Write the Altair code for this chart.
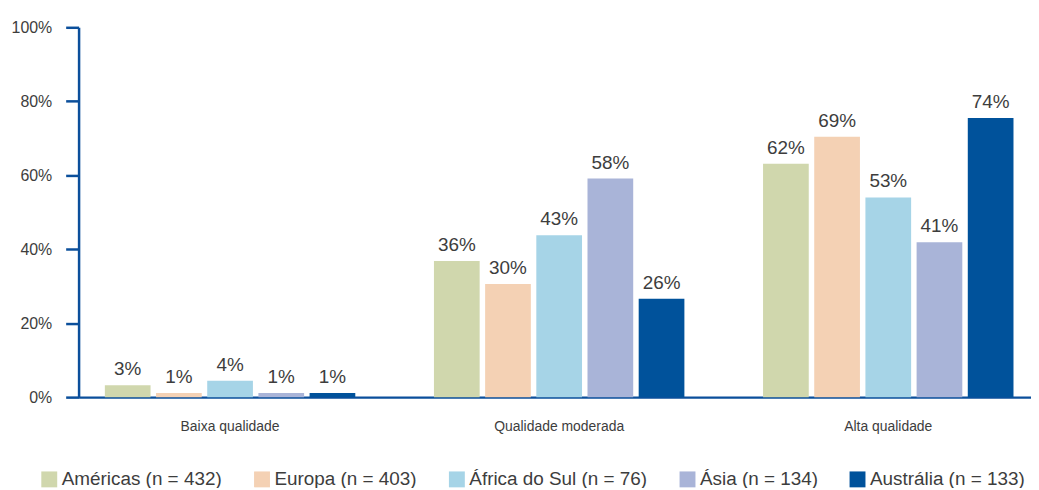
import altair as alt
import pandas as pd

categories = ["Baixa qualidade", "Qualidade moderada", "Alta qualidade"]
regions = ["Américas (n = 432)", "Europa (n = 403)", "África do Sul (n = 76)",
           "Ásia (n = 134)", "Austrália (n = 133)"]
colors = ["#d0d7ad", "#f4d1b4", "#a6d4e7", "#a9b4d8", "#00529b"]

# bar heights (per region, across categories)
americas = [3.2, 36.8, 63.1]
europa = [1.1, 30.6, 70.4]
africa = [4.4, 43.8, 54.0]
asia = [1.1, 59.1, 41.9]
australia = [1.1, 26.6, 75.5]

# printed labels
americas_lbl = [3, 36, 62]
europa_lbl = [1, 30, 69]
africa_lbl = [4, 43, 53]
asia_lbl = [1, 58, 41]
australia_lbl = [1, 26, 74]

bar_values = [americas, europa, africa, asia, australia]
label_values = [americas_lbl, europa_lbl, africa_lbl, asia_lbl, australia_lbl]

rows = []
for r, vals, lbls in zip(regions, bar_values, label_values):
    for c, v, l in zip(categories, vals, lbls):
        rows.append({"categoria": c, "regiao": r, "valor": v, "rotulo": f"{l}%"})
df = pd.DataFrame(rows)

axis_color = "#0b4f9b"
text_color = "#3d3d3d"
font = "Liberation Sans"

x = alt.X("categoria:N", sort=categories, title=None,
          scale=alt.Scale(paddingInner=0.239, paddingOuter=0.0665, align=0.6),
          axis=alt.Axis(labelAngle=0, ticks=False, domainColor=axis_color,
                        domainWidth=2.5, labelFontSize=14, labelColor=text_color,
                        labelPadding=23, labelFont=font))
xo = alt.XOffset("regiao:N", sort=regions,
                 scale=alt.Scale(paddingInner=0.107, paddingOuter=0))
y = alt.Y("valor:Q", scale=alt.Scale(domain=[0, 100]), title=None,
          axis=alt.Axis(values=[0, 20, 40, 60, 80, 100],
                        labelExpr="datum.value + '%'", grid=False,
                        domainColor=axis_color, domainWidth=2.5,
                        tickColor=axis_color, tickWidth=2.5, tickSize=13,
                        labelFontSize=16, labelColor=text_color,
                        labelPadding=14, labelFont=font))

color = alt.Color("regiao:N", sort=regions,
                  scale=alt.Scale(domain=regions, range=colors),
                  legend=alt.Legend(title=None, orient="none", legendX=-39,
                                    legendY=445, direction="horizontal",
                                    columns=5, columnPadding=30,
                                    symbolType="square", symbolSize=256,
                                    symbolStrokeWidth=0, labelFontSize=19,
                                    labelLimit=400,
                                    labelColor=text_color, labelFont=font,
                                    labelOffset=3, padding=0))

bars = alt.Chart(df).mark_bar().encode(x=x, xOffset=xo, y=y, color=color)
text = alt.Chart(df).mark_text(dy=-10, baseline="alphabetic", fontSize=19,
                               color=text_color, font=font).encode(
    x=x, xOffset=xo, y=y, text="rotulo:N")

chart = alt.layer(bars, text).properties(
    width=958, height=372,
    autosize=alt.AutoSizeParams(type="none"),
    padding={"left": 71, "top": 18, "right": 0, "bottom": 90},
).configure_view(stroke=None)

chart.save("out.html", embed_options={"renderer": "svg", "actions": False})
